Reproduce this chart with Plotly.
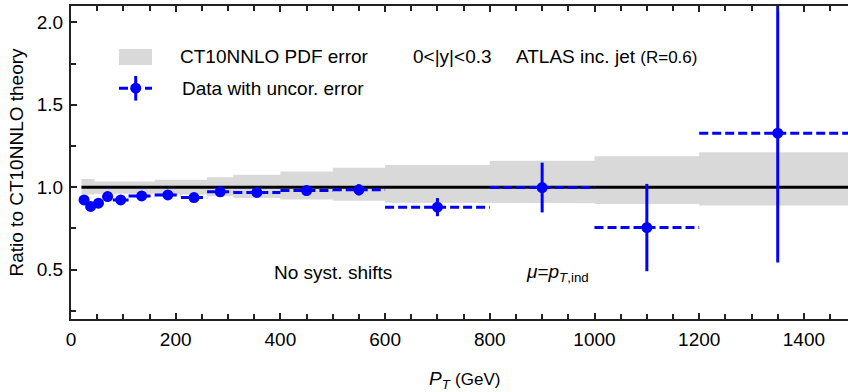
import plotly.graph_objects as go

# ---------------- data ----------------
bin_lo = [20, 30, 45, 60, 80, 110, 160, 210, 260, 310, 400, 500, 600, 800, 1000, 1200]
bin_hi = [30, 45, 60, 80, 110, 160, 210, 260, 310, 400, 500, 600, 800, 1000, 1200, 1500]
pt_center = [25, 37.5, 52.5, 70, 95, 135, 185, 235, 285, 355, 450, 550, 700, 900, 1100, 1350]
ratio = [0.923, 0.883, 0.903, 0.943, 0.923, 0.947, 0.953, 0.937, 0.972, 0.968,
         0.980, 0.984, 0.879, 0.998, 0.755, 1.328]
uncor_err = [0.008, 0.008, 0.008, 0.008, 0.008, 0.008, 0.008, 0.008, 0.010, 0.012,
             0.015, 0.034, 0.055, 0.151, 0.265, 0.785]
pdf_lo = [0.955, 0.955, 0.96, 0.96, 0.96, 0.96, 0.955, 0.955, 0.945, 0.935,
          0.925, 0.918, 0.906, 0.903, 0.898, 0.889]
pdf_hi = [1.05, 1.05, 1.035, 1.035, 1.035, 1.035, 1.045, 1.045, 1.06, 1.075,
          1.095, 1.118, 1.135, 1.16, 1.188, 1.212]
x_ticks = [0, 200, 400, 600, 800, 1000, 1200, 1400]
y_ticks = [0.5, 1.0, 1.5, 2.0]

FONT = "Liberation Sans"
BLUE = "#0000ff"
GREY = "#d9d9d9"

# plot-area pixel geometry (for the hand-made legend)
L, R, T, B = 71, 848, 6, 319.3
def px(x):
    return (x - L) / (R - L)
def py(y):
    return 1 - (y - T) / (B - T)

fig = go.Figure()

# PDF error band (step polygon)
bx, by_up, by_dn = [], [], []
for lo, hi, a, b in zip(bin_lo, bin_hi, pdf_lo, pdf_hi):
    bx += [lo, hi]
    by_up += [b, b]
    by_dn += [a, a]
fig.add_trace(go.Scatter(
    x=bx + bx[::-1], y=by_up + by_dn[::-1], fill="toself", fillcolor=GREY,
    line=dict(width=0), mode="lines", hoverinfo="skip", showlegend=False))

# unity line
fig.add_trace(go.Scatter(x=[bin_lo[0], bin_hi[-1]], y=[1, 1], mode="lines",
                         line=dict(color="black", width=3), showlegend=False))

# horizontal bin-width dashes
hx, hy = [], []
for lo, hi, v in zip(bin_lo, bin_hi, ratio):
    hx += [lo, hi, None]
    hy += [v, v, None]
fig.add_trace(go.Scatter(x=hx, y=hy, mode="lines",
                         line=dict(color=BLUE, width=3, dash="9px,4px"),
                         showlegend=False, connectgaps=False))

# data points with uncorrelated errors
fig.add_trace(go.Scatter(
    x=pt_center, y=ratio, mode="markers",
    marker=dict(color=BLUE, size=11),
    error_y=dict(type="data", array=uncor_err, color=BLUE, thickness=3, width=0),
    showlegend=False))

# ---------------- hand-made legend ----------------
shapes = [
    dict(type="rect", xref="paper", yref="paper", x0=px(119), x1=px(152),
         y0=py(65), y1=py(49), fillcolor=GREY, line=dict(width=0)),
    dict(type="line", xref="paper", yref="paper", x0=px(119), x1=px(152),
         y0=py(88.3), y1=py(88.3), line=dict(color=BLUE, width=3, dash="9px,4px")),
    dict(type="line", xref="paper", yref="paper", x0=px(135.7), x1=px(135.7),
         y0=py(76), y1=py(100.7), line=dict(color=BLUE, width=3)),
    dict(type="circle", xref="paper", yref="paper", x0=px(130.2), x1=px(141.2),
         y0=py(93.8), y1=py(82.8), fillcolor=BLUE, line=dict(width=0)),
]

def ann(text, x, y, size=19, xanchor="left"):
    return dict(text=text, xref="paper", yref="paper", x=px(x), y=py(y),
                xanchor=xanchor, yanchor="middle", showarrow=False,
                font=dict(family=FONT, size=size, color="black"))

annotations = [
    ann("CT10NNLO PDF error", 178, 57),
    ann("Data with uncor. error", 180, 89),
    ann("0&lt;|y|&lt;0.3", 411, 57),
    ann("ATLAS inc. jet <span style='font-size:17px'>(R=0.6)</span>", 514, 57),
    ann("No syst. shifts", 272, 273),
    ann("<i>μ</i>=<i>p</i><sub><i>T</i>,ind</sub>", 524, 273),
    ann("<i>P</i><sub><i>T</i></sub> <span style='font-size:17px'>(GeV)</span>", 464, 380,
        xanchor="center"),
]

fig.update_layout(
    width=848, height=392,
    margin=dict(l=L, r=848 - R, t=T, b=392 - B),
    paper_bgcolor="white", plot_bgcolor="white",
    font=dict(family=FONT, size=19, color="black"),
    shapes=shapes, annotations=annotations,
    showlegend=False,
)

fig.update_xaxes(
    range=[0, (R - L) / 0.5235], tickmode="array", tickvals=x_ticks,
    ticks="inside", ticklen=6, tickwidth=1.5, tickcolor="#222",
    minor=dict(dtick=50, tick0=0, ticks="inside", ticklen=5, tickwidth=1.5, tickcolor="#222"),
    showline=True, linewidth=2, linecolor="#222", mirror="ticks",
    showgrid=False, zeroline=False, ticklabelstandoff=2,
    tickfont=dict(family=FONT, size=19),
)
fig.update_yaxes(
    range=[0.2, 2.1], tickmode="array", tickvals=y_ticks, tickformat=".1f",
    ticks="inside", ticklen=6, tickwidth=1.5, tickcolor="#222",
    minor=dict(dtick=0.25, tick0=0, ticks="inside", ticklen=5, tickwidth=1.5, tickcolor="#222"),
    showline=True, linewidth=2, linecolor="#222", mirror=False,
    showgrid=False, zeroline=False, ticklabelstandoff=2,
    title=dict(text="Ratio to CT10NNLO theory", standoff=8,
               font=dict(family=FONT, size=19)),
    tickfont=dict(family=FONT, size=19),
)

fig.write_html("out.html")
